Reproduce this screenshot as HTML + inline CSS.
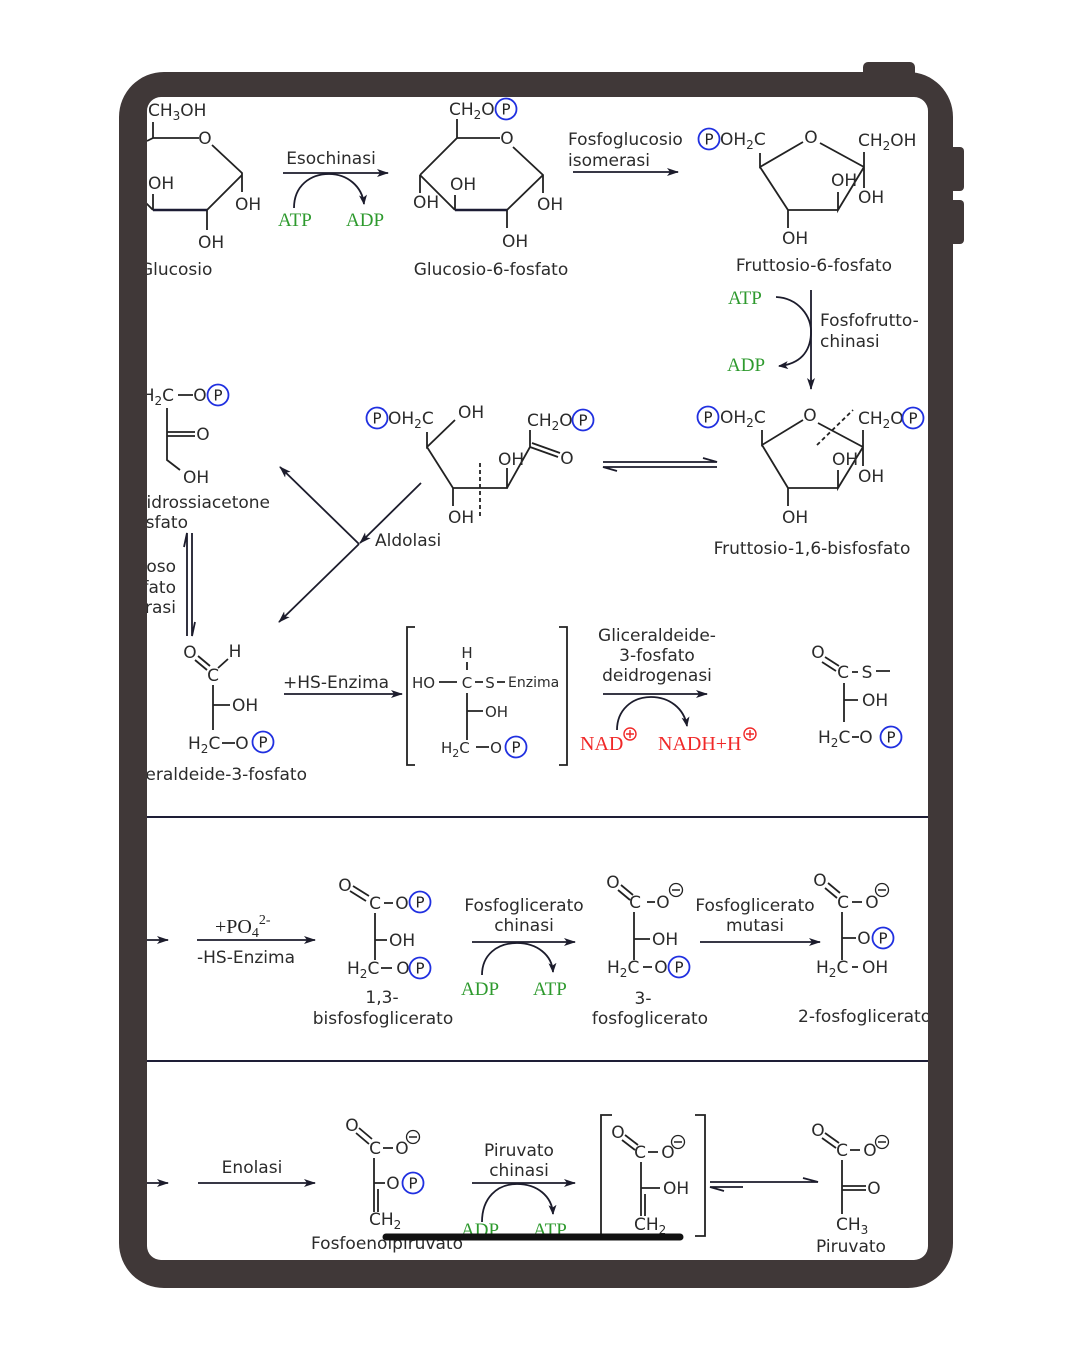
<!DOCTYPE html>
<html><head><meta charset="utf-8">
<style>
html,body{margin:0;padding:0;background:#fff;}
svg{display:block}
.t{font-family:"DejaVu Sans","Liberation Sans",sans-serif;font-size:17px;fill:#2b2b2b}
.sm{font-size:15px}
.xs{font-size:14px}
.g{font-family:"Liberation Serif",serif;font-size:19px;fill:#2e9a2e}
.r{font-family:"Liberation Serif",serif;font-size:20px;fill:#f02828}
.k{font-family:"Liberation Serif",serif;font-size:20px;fill:#222}
.b{stroke:#222;stroke-width:1.8;fill:none}
.bb{stroke:#1c1c34;stroke-width:2.6;fill:none}
.a{stroke:#1c1c2c;stroke-width:1.8;fill:none}
.pc{fill:#fff;stroke:#2030e0;stroke-width:1.8}
.pt{font-family:"DejaVu Sans","Liberation Sans",sans-serif;font-size:15px;fill:#222;text-anchor:middle}
.m{text-anchor:middle}
.e{text-anchor:end}
</style></head>
<body>
<svg width="1080" height="1350" viewBox="0 0 1080 1350" xmlns="http://www.w3.org/2000/svg">
<defs>
<marker id="ah" viewBox="0 0 12 8" refX="11" refY="4" markerWidth="12" markerHeight="8" markerUnits="userSpaceOnUse" orient="auto">
<path d="M0,0 L12,4 L0,8 L3,4 Z" fill="#1c1c2c"/></marker>
<marker id="ah2" viewBox="0 0 10 8" refX="9" refY="4" markerWidth="10" markerHeight="8" markerUnits="userSpaceOnUse" orient="auto">
<path d="M0,0 L10,4 L0,8 L2.5,4 Z" fill="#1c1c2c"/></marker>
<clipPath id="cl"><rect x="147" y="97" width="781" height="1163" rx="14"/></clipPath>
</defs>

<g clip-path="url(#cl)">
<!-- ============ GLUCOSIO ============ -->
<text class="t" x="148" y="116">CH<tspan font-size="12" dy="4">3</tspan><tspan dy="-4">OH</tspan></text>
<path class="b" d="M153,122 V138 M147,141 L153,138 H199 M212,145 L242,173 V192 M242,175 L207,210 V230 M153,210 V194 M153,210 L146,203"/>
<path class="bb" d="M207,210 H153"/>
<text class="t m" x="205" y="144">O</text>
<text class="t" x="235" y="210">OH</text>
<text class="t" x="198" y="248">OH</text>
<text class="t" x="148" y="189">OH</text>
<text class="t" x="140" y="275">Glucosio</text>

<!-- Esochinasi -->
<line class="a" x1="283" y1="173" x2="388" y2="173" marker-end="url(#ah)"/>
<text class="t m" x="331" y="164">Esochinasi</text>
<path class="a" d="M294,208 C294,186 310,174 329,174 C347,174 362,186 364,204" marker-end="url(#ah2)"/>
<text class="g" x="278" y="226">ATP</text>
<text class="g" x="346" y="226">ADP</text>

<!-- ============ GLUCOSIO-6-P ============ -->
<text class="t" x="449" y="115">CH<tspan font-size="12" dy="4">2</tspan><tspan dy="-4">O</tspan></text>
<circle class="pc" cx="506" cy="109" r="10.5"/><text class="pt" x="506" y="114.5">P</text>
<path class="b" d="M457,119 V138 H500 M513,147 L543,175 V193 M543,175 L507,210 V228 M455,210 V195 M455,210 L420,175 M420,175 L457,138 M420,175 V193"/>
<path class="bb" d="M507,210 H455"/>
<text class="t m" x="507" y="144">O</text>
<text class="t" x="537" y="210">OH</text>
<text class="t" x="502" y="247">OH</text>
<text class="t" x="450" y="190">OH</text>
<text class="t" x="413" y="208">OH</text>
<text class="t m" x="491" y="275">Glucosio-6-fosfato</text>

<!-- Fosfoglucosio isomerasi -->
<text class="t" x="568" y="145">Fosfoglucosio</text>
<text class="t" x="568" y="166">isomerasi</text>
<line class="a" x1="573" y1="172" x2="678" y2="172" marker-end="url(#ah)"/>

<!-- ============ FRUTTOSIO-6-P ============ -->
<circle class="pc" cx="709" cy="139" r="10.5"/><text class="pt" x="709" y="144.5">P</text>
<text class="t" x="720" y="145">OH<tspan font-size="12" dy="4">2</tspan><tspan dy="-4">C</tspan></text>
<path class="b" d="M760,153 V167 L803,142 M820,143 L864,167 M864,152 V188 M864,167 L838,210 V192 M838,210 H788 V228 M788,210 L760,167"/>
<text class="t m" x="811" y="143">O</text>
<text class="t" x="858" y="146">CH<tspan font-size="12" dy="4">2</tspan><tspan dy="-4">OH</tspan></text>
<text class="t" x="858" y="203">OH</text>
<text class="t" x="831" y="186">OH</text>
<text class="t" x="782" y="244">OH</text>
<text class="t m" x="814" y="271">Fruttosio-6-fosfato</text>

<!-- Fosfofruttochinasi -->
<line class="a" x1="811" y1="290" x2="811" y2="389" marker-end="url(#ah)"/>
<text class="t" x="820" y="326">Fosfofrutto-</text>
<text class="t" x="820" y="347">chinasi</text>
<path class="a" d="M776,297 C798,298 812,316 811,334 C810,352 800,364 779,366" marker-end="url(#ah2)"/>
<text class="g" x="728" y="304">ATP</text>
<text class="g" x="727" y="371">ADP</text>

<!-- ============ FRUTTOSIO-1,6-BP ============ -->
<circle class="pc" cx="708" cy="417" r="10.5"/><text class="pt" x="708" y="422.5">P</text>
<text class="t" x="720" y="423">OH<tspan font-size="12" dy="4">2</tspan><tspan dy="-4">C</tspan></text>
<path class="b" d="M762,430 V445 L803,420 M818,423 L863,447 M863,430 V466 M863,447 L838,488 V470 M838,488 H788 V506 M788,488 L762,445"/>
<path d="M817,445 L853,410" stroke="#222" stroke-width="1.8" stroke-dasharray="4,3"/>
<text class="t m" x="810" y="421">O</text>
<text class="t" x="858" y="424">CH<tspan font-size="12" dy="4">2</tspan><tspan dy="-4">O</tspan></text>
<circle class="pc" cx="913" cy="418" r="10.5"/><text class="pt" x="913" y="423.5">P</text>
<text class="t" x="832" y="465">OH</text>
<text class="t" x="858" y="482">OH</text>
<text class="t" x="782" y="523">OH</text>
<text class="t m" x="812" y="554">Fruttosio-1,6-bisfosfato</text>
<!-- equilibrium -->
<path class="a" d="M603,462 H717 L703,458 M717,467 H603 L617,471"/>

<!-- ============ OPEN CHAIN ============ -->
<circle class="pc" cx="377" cy="418" r="10.5"/><text class="pt" x="377" y="423.5">P</text>
<text class="t" x="388" y="424">OH<tspan font-size="12" dy="4">2</tspan><tspan dy="-4">C</tspan></text>
<path class="b" d="M427,432 V447 L455,420 M427,447 L453,488 V506 M453,488 H507 V468 M507,488 L530,447 V430 M530,447 L558,457 M532,443 L560,453"/>
<path d="M480,463 V516" stroke="#222" stroke-width="1.8" stroke-dasharray="4,3"/>
<text class="t" x="458" y="418">OH</text>
<text class="t" x="448" y="523">OH</text>
<text class="t" x="498" y="465">OH</text>
<text class="t" x="527" y="426">CH<tspan font-size="12" dy="4">2</tspan><tspan dy="-4">O</tspan></text>
<circle class="pc" cx="583" cy="420" r="10.5"/><text class="pt" x="583" y="425.5">P</text>
<text class="t m" x="567" y="464">O</text>

<!-- Aldolasi -->
<line class="a" x1="421" y1="483" x2="360" y2="543" marker-end="url(#ah)"/>
<line class="a" x1="359" y1="544" x2="279" y2="622" marker-end="url(#ah)"/>
<line class="a" x1="359" y1="544" x2="280" y2="467" marker-end="url(#ah)"/>
<text class="t" x="375" y="546">Aldolasi</text>

<!-- ============ DHAP ============ -->
<text class="t e" x="174" y="401">H<tspan font-size="12" dy="4">2</tspan><tspan dy="-4">C</tspan></text>
<path class="b" d="M178,395 H193 M167,408 V460 L180,470 M167,432 H195 M167,436 H195"/>
<text class="t m" x="200" y="401">O</text>
<circle class="pc" cx="218" cy="395" r="10.5"/><text class="pt" x="218" y="400.5">P</text>
<text class="t m" x="203" y="440">O</text>
<text class="t" x="183" y="483">OH</text>
<text class="t e" x="270" y="508">Diidrossiacetone</text>
<text class="t e" x="188" y="528">fosfato</text>

<!-- Triosofosfato isomerasi -->
<text class="t e" x="176" y="572">Trioso</text>
<text class="t e" x="176" y="593">fosfato</text>
<text class="t e" x="176" y="613">isomerasi</text>
<path class="a" d="M184,547 L187,533 V636 M192,533 V636 L195,622"/>

<!-- ============ GAP ============ -->
<text class="t m" x="190" y="658">O</text>
<text class="t m" x="235" y="657">H</text>
<text class="t m" x="213" y="681">C</text>
<path class="b" d="M195,660 L207,670 M198,656 L210,666 M218,668 L228,659 M213,685 V730 M213,705 H230 M222,743 H235"/>
<text class="t" x="232" y="711">OH</text>
<text class="t" x="188" y="749">H<tspan font-size="12" dy="4">2</tspan><tspan dy="-4">C</tspan></text>
<text class="t m" x="242" y="749">O</text>
<circle class="pc" cx="263" cy="742" r="10.5"/><text class="pt" x="263" y="747.5">P</text>
<text class="t e" x="307" y="780">Gliceraldeide-3-fosfato</text>

<!-- +HS-Enzima -->
<text class="t" x="283" y="688">+HS-Enzima</text>
<line class="a" x1="284" y1="694" x2="402" y2="694" marker-end="url(#ah)"/>

<!-- Bracket intermediate -->
<path class="b" d="M415,627 H407 V765 H415 M559,627 H567 V765 H559"/>
<text class="t sm m" x="467" y="658">H</text>
<path class="b" d="M467,662 V670 M439,682 H457 M475,682 H483 M497,682 H505 M467,693 V740 M467,711 H483 M476,747 H489"/>
<text class="t sm" x="412" y="688">HO</text>
<text class="t sm m" x="467" y="688">C</text>
<text class="t sm m" x="490" y="688">S</text>
<text class="t xs" x="508" y="687">Enzima</text>
<text class="t sm" x="485" y="717">OH</text>
<text class="t sm" x="441" y="753">H<tspan font-size="11" dy="4">2</tspan><tspan dy="-4">C</tspan></text>
<text class="t sm m" x="496" y="753">O</text>
<circle class="pc" cx="516" cy="747" r="10.5"/><text class="pt" x="516" y="752.5">P</text>

<!-- GAPDH -->
<text class="t m" x="657" y="641">Gliceraldeide-</text>
<text class="t m" x="657" y="661">3-fosfato</text>
<text class="t m" x="657" y="681">deidrogenasi</text>
<line class="a" x1="603" y1="694" x2="707" y2="694" marker-end="url(#ah)"/>
<path class="a" d="M617,730 C617,710 632,697 651,697 C669,697 684,708 687,726" marker-end="url(#ah2)"/>
<text class="r" x="580" y="750">NAD</text>
<circle cx="630" cy="734" r="6" fill="none" stroke="#f02828" stroke-width="1.4"/>
<path d="M626,734 H634 M630,730 V738" stroke="#f02828" stroke-width="1.4"/>
<text class="r" x="658" y="750">NADH+H</text>
<circle cx="750" cy="734" r="6" fill="none" stroke="#f02828" stroke-width="1.4"/>
<path d="M746,734 H754 M750,730 V738" stroke="#f02828" stroke-width="1.4"/>

<!-- Thioester product -->
<text class="t m" x="818" y="658">O</text>
<text class="t m" x="843" y="678">C</text>
<path class="b" d="M822,662 L836,671 M825,657 L839,666 M852,672 H858 M876,671 H890 M844,683 V722 M844,700 H858 M852,737 H859"/>
<text class="t m" x="867" y="678">S</text>
<text class="t" x="862" y="706">OH</text>
<text class="t" x="818" y="743">H<tspan font-size="12" dy="4">2</tspan><tspan dy="-4">C</tspan></text>
<text class="t m" x="866" y="743">O</text>
<circle class="pc" cx="891" cy="737" r="10.5"/><text class="pt" x="891" y="742.5">P</text>

<!-- separators -->
<line x1="147" y1="817" x2="928" y2="817" stroke="#1e1e36" stroke-width="2"/>
<line x1="147" y1="1061" x2="928" y2="1061" stroke="#1e1e36" stroke-width="2"/>

<!-- ============ ROW 2 ============ -->
<line class="a" x1="140" y1="940" x2="168" y2="940" marker-end="url(#ah)"/>
<text class="k" x="215" y="933">+PO<tspan font-size="14" dy="4">4</tspan><tspan font-size="14" dy="-13">2-</tspan></text>
<line class="a" x1="197" y1="940" x2="315" y2="940" marker-end="url(#ah)"/>
<text class="t" x="197" y="963">-HS-Enzima</text>

<!-- 1,3-BPG -->
<text class="t m" x="345" y="891">O</text>
<text class="t m" x="375" y="909">C</text>
<path class="b" d="M350,891 L366,901 M353,886 L369,896 M384,903 H393 M375,913 V960 M375,940 H387 M381,968 H392"/>
<text class="t m" x="402" y="909">O</text>
<circle class="pc" cx="420" cy="902" r="10.5"/><text class="pt" x="420" y="907.5">P</text>
<text class="t" x="389" y="946">OH</text>
<text class="t" x="347" y="974">H<tspan font-size="12" dy="4">2</tspan><tspan dy="-4">C</tspan></text>
<text class="t m" x="403" y="974">O</text>
<circle class="pc" cx="420" cy="968" r="10.5"/><text class="pt" x="420" y="973.5">P</text>
<text class="t m" x="382" y="1003">1,3-</text>
<text class="t m" x="383" y="1024">bisfosfoglicerato</text>

<!-- Fosfoglicerato chinasi -->
<text class="t m" x="524" y="911">Fosfoglicerato</text>
<text class="t m" x="524" y="931">chinasi</text>
<line class="a" x1="472" y1="942" x2="575" y2="942" marker-end="url(#ah)"/>
<path class="a" d="M482,975 C482,955 497,943 517,943 C537,943 552,955 553,972" marker-end="url(#ah2)"/>
<text class="g" x="461" y="995">ADP</text>
<text class="g" x="533" y="995">ATP</text>

<!-- 3PG -->
<text class="t m" x="613" y="888">O</text>
<text class="t m" x="635" y="908">C</text>
<path class="b" d="M618,890 L630,900 M621,885 L633,895 M647,902 H655 M634,912 V960 M634,939 H650 M643,967 H652"/>
<text class="t m" x="663" y="908">O</text>
<circle cx="676" cy="890" r="6.5" fill="#fff" stroke="#222" stroke-width="1.3"/><path d="M672,890 H680" stroke="#222" stroke-width="1.5"/>
<text class="t" x="652" y="945">OH</text>
<text class="t" x="607" y="973">H<tspan font-size="12" dy="4">2</tspan><tspan dy="-4">C</tspan></text>
<text class="t m" x="661" y="973">O</text>
<circle class="pc" cx="679" cy="967" r="10.5"/><text class="pt" x="679" y="972.5">P</text>
<text class="t m" x="643" y="1004">3-</text>
<text class="t m" x="650" y="1024">fosfoglicerato</text>

<!-- mutasi -->
<text class="t m" x="755" y="911">Fosfoglicerato</text>
<text class="t m" x="755" y="931">mutasi</text>
<line class="a" x1="700" y1="942" x2="820" y2="942" marker-end="url(#ah)"/>

<!-- 2PG -->
<text class="t m" x="820" y="886">O</text>
<text class="t m" x="843" y="908">C</text>
<path class="b" d="M825,888 L837,898 M828,883 L840,893 M852,902 H862 M842,912 V960 M842,938 H856 M852,967 H858"/>
<text class="t m" x="872" y="908">O</text>
<circle cx="882" cy="890" r="6.5" fill="#fff" stroke="#222" stroke-width="1.3"/><path d="M878,890 H886" stroke="#222" stroke-width="1.5"/>
<text class="t m" x="864" y="944">O</text>
<circle class="pc" cx="883" cy="938" r="10.5"/><text class="pt" x="883" y="943.5">P</text>
<text class="t" x="816" y="973">H<tspan font-size="12" dy="4">2</tspan><tspan dy="-4">C</tspan></text>
<text class="t" x="862" y="973">OH</text>
<text class="t" x="798" y="1022">2-fosfoglicerato</text>

<!-- ============ ROW 3 ============ -->
<line class="a" x1="140" y1="1183" x2="168" y2="1183" marker-end="url(#ah)"/>
<text class="t m" x="252" y="1173">Enolasi</text>
<line class="a" x1="198" y1="1183" x2="315" y2="1183" marker-end="url(#ah)"/>

<!-- PEP -->
<text class="t m" x="352" y="1131">O</text>
<text class="t m" x="375" y="1154">C</text>
<path class="b" d="M356,1133 L369,1144 M359,1128 L372,1139 M383,1148 H393 M374,1158 V1212 M374,1183 H385 M378,1189 V1212"/>
<text class="t m" x="402" y="1154">O</text>
<circle cx="413" cy="1137" r="6.5" fill="#fff" stroke="#222" stroke-width="1.3"/><path d="M409,1137 H417" stroke="#222" stroke-width="1.5"/>
<text class="t m" x="393" y="1189">O</text>
<circle class="pc" cx="413" cy="1183" r="10.5"/><text class="pt" x="413" y="1188.5">P</text>
<text class="t" x="369" y="1225">CH<tspan font-size="12" dy="4">2</tspan></text>
<text class="t m" x="387" y="1249">Fosfoenolpiruvato</text>

<!-- Piruvato chinasi -->
<text class="t m" x="519" y="1156">Piruvato</text>
<text class="t m" x="519" y="1176">chinasi</text>
<line class="a" x1="472" y1="1183" x2="575" y2="1183" marker-end="url(#ah)"/>
<path class="a" d="M482,1222 C482,1198 497,1184 517,1184 C537,1184 552,1196 553,1214" marker-end="url(#ah2)"/>
<text class="g" x="461" y="1236">ADP</text>
<text class="g" x="533" y="1236">ATP</text>

<!-- Enol intermediate bracket -->
<path class="b" d="M612,1115 H601 V1236 H612 M695,1115 H705 V1236 H695"/>
<text class="t m" x="618" y="1138">O</text>
<text class="t m" x="640" y="1158">C</text>
<path class="b" d="M622,1140 L635,1150 M625,1135 L638,1145 M648,1152 H658 M641,1162 V1216 M641,1188 H660 M645,1194 V1216"/>
<text class="t m" x="668" y="1158">O</text>
<circle cx="678" cy="1142" r="6.5" fill="#fff" stroke="#222" stroke-width="1.3"/><path d="M674,1142 H682" stroke="#222" stroke-width="1.5"/>
<text class="t" x="663" y="1194">OH</text>
<text class="t" x="634" y="1230">CH<tspan font-size="12" dy="4">2</tspan></text>

<!-- equilibrium -->
<path class="a" d="M710,1182 H818 L803,1178 M743,1187 H710 L724,1191"/>

<!-- Piruvato -->
<text class="t m" x="818" y="1136">O</text>
<text class="t m" x="842" y="1156">C</text>
<path class="b" d="M822,1138 L836,1148 M825,1133 L839,1143 M850,1150 H860 M842,1160 V1214 M842,1186 H866 M842,1190 H866"/>
<text class="t m" x="870" y="1156">O</text>
<circle cx="882" cy="1142" r="6.5" fill="#fff" stroke="#222" stroke-width="1.3"/><path d="M878,1142 H886" stroke="#222" stroke-width="1.5"/>
<text class="t m" x="874" y="1194">O</text>
<text class="t" x="836" y="1230">CH<tspan font-size="12" dy="4">3</tspan></text>
<text class="t m" x="851" y="1252">Piruvato</text>
</g>

<!-- home bar -->
<line x1="386" y1="1237" x2="680" y2="1237" stroke="#111" stroke-width="7" stroke-linecap="round"/>

<!-- tablet frame -->
<rect x="863" y="62" width="52" height="16" rx="5" fill="#403838"/>
<rect x="945" y="147" width="19" height="44" rx="4" fill="#403838"/>
<rect x="945" y="200" width="19" height="44" rx="4" fill="#403838"/>
<path fill="#403838" fill-rule="evenodd" d="M164,72 H908 A45,45 0 0 1 953,117 V1243 A45,45 0 0 1 908,1288 H164 A45,45 0 0 1 119,1243 V117 A45,45 0 0 1 164,72 Z M161,97 H914 A14,14 0 0 1 928,111 V1246 A14,14 0 0 1 914,1260 H161 A14,14 0 0 1 147,1246 V111 A14,14 0 0 1 161,97 Z"/>
</svg>
</body></html>
